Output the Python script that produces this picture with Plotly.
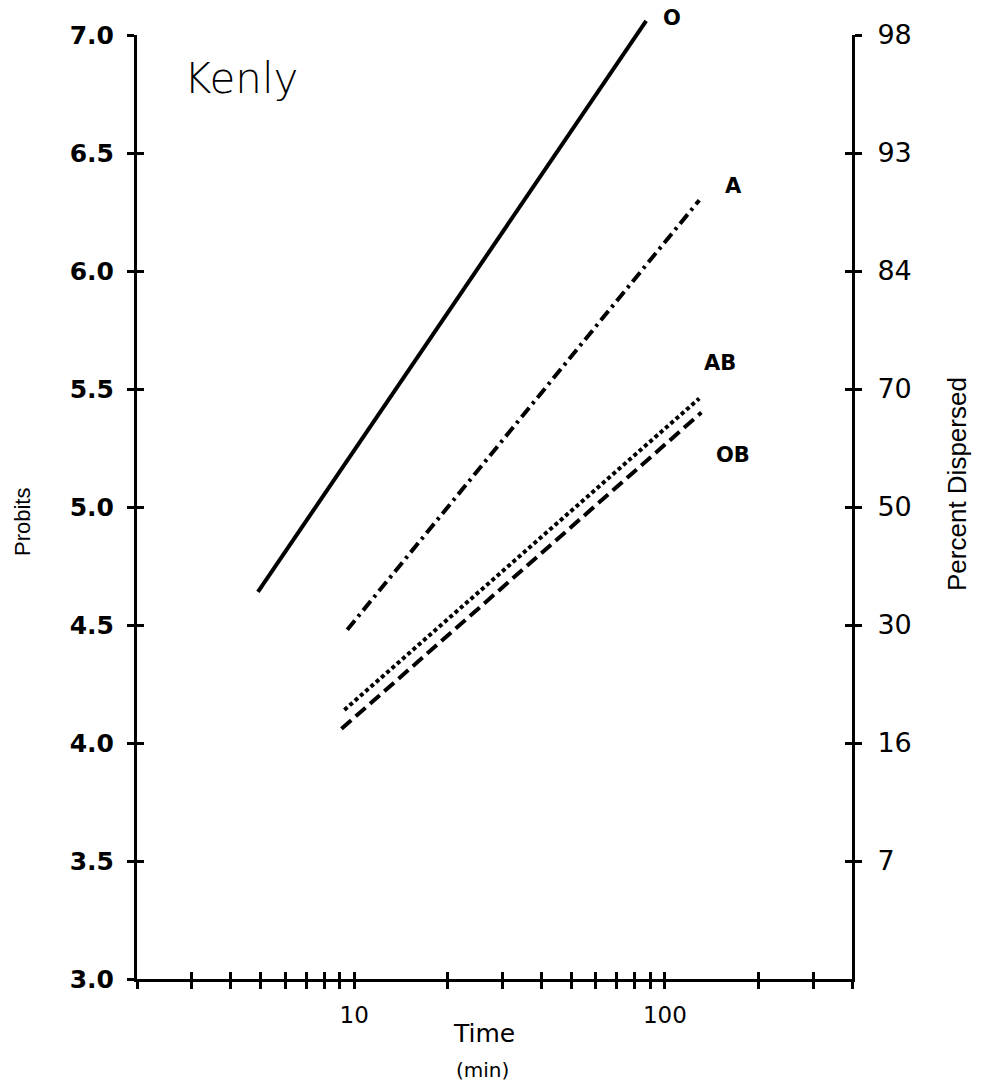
import math
import plotly.graph_objects as go

# ---- data ----
series_names = ["O", "A", "AB", "OB"]
series_time = [[4.9, 87], [9.5, 129], [9.3, 129], [9.1, 131]]        # minutes
series_probit = [[4.64, 7.06], [4.48, 6.30], [4.14, 5.46], [4.06, 5.40]]
series_dash = ["solid", "12px,5px,3px,5px", "4px,3px", "13px,6px"]
label_time = [105, 166, 150, 165]
label_probit = [7.07, 6.36, 5.61, 5.22]

probit_ticks = [3.0, 3.5, 4.0, 4.5, 5.0, 5.5, 6.0, 6.5, 7.0]
probit_labels = ["3.0", "3.5", "4.0", "4.5", "5.0", "5.5", "6.0", "6.5", "7.0"]
percent_ticks = [3.5, 4.0, 4.5, 5.0, 5.5, 6.0, 6.5, 7.0]
percent_labels = ["7", "16", "30", "50", "70", "84", "93", "98"]
time_ticks = [2, 3, 4, 5, 6, 7, 8, 9, 10, 20, 30, 40, 50, 60, 70, 80, 90, 100, 200, 300, 400]
time_labels = ["" if t not in (10, 100) else str(t) for t in time_ticks]

XR = [math.log10(2), math.log10(400)]
YR = [3, 7]
FONT = "DejaVu Sans"

W, H = 984, 1089
L, R, T, B = 137, 132, 15, 110
pw, ph = W - L - R, H - T - B
y_top_px = 35                      # pixel row of probit 7.0
dom_top = (H - B - y_top_px) / ph  # domain fraction of the framed axes
YR_ext = [YR[0], YR[0] + (YR[1] - YR[0]) / dom_top]

fig = go.Figure()
for name, xs, ys, dash in zip(series_names, series_time, series_probit, series_dash):
    fig.add_trace(go.Scatter(x=xs, y=ys, mode="lines", name=name, xaxis="x", yaxis="y5",
                             line=dict(color="black", width=4, dash=dash),
                             showlegend=False, hoverinfo="skip"))

# invisible carriers so that the overlay axes are drawn
for xa, ya in [("x2", "y"), ("x", "y2"), ("x", "y3"), ("x", "y4"), ("x", "y")]:
    fig.add_trace(go.Scatter(x=[None], y=[None], xaxis=xa, yaxis=ya, mode="lines",
                             showlegend=False, hoverinfo="skip"))

for name, lx, ly in zip(series_names, label_time, label_probit):
    fig.add_annotation(x=math.log10(lx), y=ly, xref="x", yref="y5", text=name, showarrow=False,
                       xanchor="center", yanchor="middle",
                       font=dict(family=FONT, size=21, color="black", weight="bold"))


def px_note(text, px, py, size, family=FONT, angle=0, weight="normal"):
    fig.add_annotation(x=(px - L) / pw, y=1 - (py - T) / ph, xref="paper", yref="paper",
                       text=text, showarrow=False, xanchor="center", yanchor="middle",
                       textangle=angle, font=dict(family=family, size=size, color="black",
                                                  weight=weight))


px_note("Kenly", 241, 78, 42, weight=200)
px_note("Time", 484, 1033, 25)
px_note("(min)", 482, 1070, 20)
px_note("Probits", 22, 522, 22, family="Liberation Sans", angle=-90)
px_note("Percent Dispersed", 957, 484, 26, family="Liberation Sans", angle=-90)

tickcommon = dict(ticklen=7, tickwidth=3, tickcolor="black", showgrid=False, zeroline=False,
                  automargin=False)

fig.update_layout(
    width=W, height=H, margin=dict(l=L, r=R, t=T, b=B, autoexpand=False),
    paper_bgcolor="white", plot_bgcolor="rgba(0,0,0,0)",
    xaxis=dict(type="log", range=XR, tickvals=time_ticks, ticktext=time_labels, ticks="outside",
               anchor="y", showline=True, linewidth=3, linecolor="black",
               tickfont=dict(family=FONT, size=23, color="black"), ticklabelstandoff=6, **tickcommon),
    xaxis2=dict(type="log", range=XR, tickvals=time_ticks, ticks="inside", showticklabels=False,
                overlaying="x", anchor="y", showline=False, **tickcommon),
    yaxis=dict(range=YR, domain=[0, dom_top], tickvals=probit_ticks, ticktext=probit_labels,
               ticks="outside", anchor="x", showline=True, linewidth=3, linecolor="black",
               tickfont=dict(family=FONT, size=25, color="black", weight="bold"),
               ticklabelstandoff=8, **tickcommon),
    yaxis3=dict(range=YR, tickvals=probit_ticks[1:], ticks="inside", showticklabels=False,
                overlaying="y", anchor="x", side="left", showline=False, **tickcommon),
    yaxis2=dict(range=YR, tickvals=percent_ticks, ticktext=percent_labels, ticks="outside",
                overlaying="y", anchor="x", side="right", showline=True, linewidth=3, linecolor="black",
                tickfont=dict(family=FONT, size=27, color="black"), ticklabelstandoff=10, **tickcommon),
    yaxis4=dict(range=YR, tickvals=percent_ticks, ticks="inside", showticklabels=False,
                overlaying="y", anchor="x", side="right", showline=False, **tickcommon),
    yaxis5=dict(range=YR_ext, domain=[0, 1], anchor="x", visible=False, showgrid=False,
                zeroline=False, automargin=False),
)

fig.write_html("out.html")
